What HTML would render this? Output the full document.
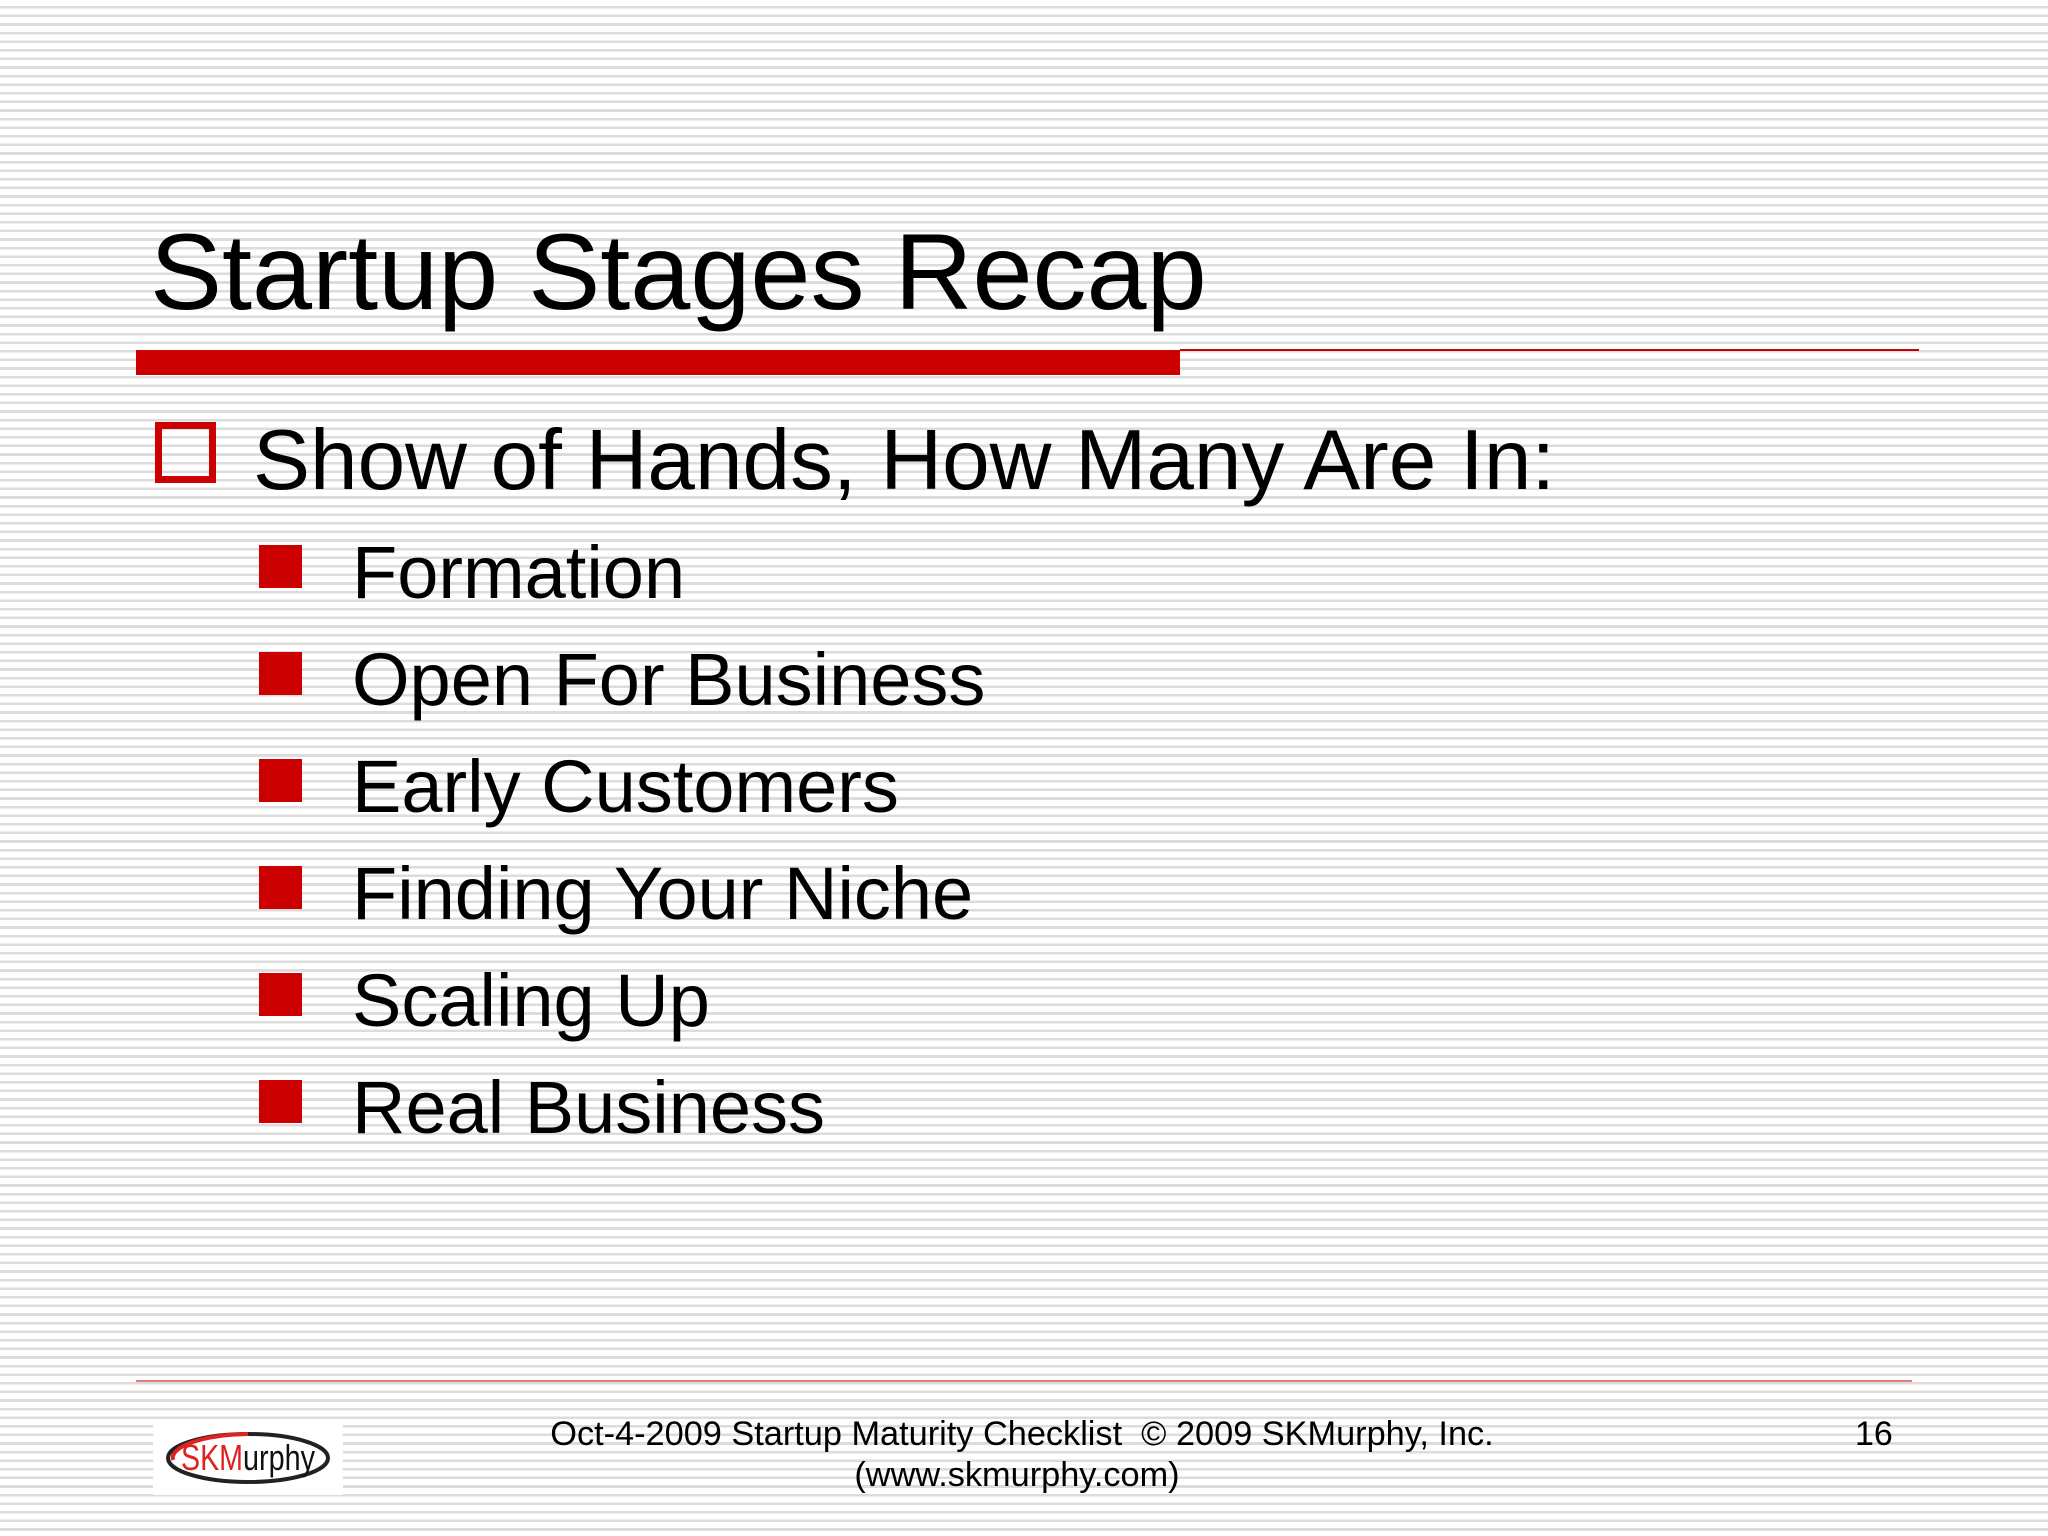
<!DOCTYPE html>
<html><head><meta charset="utf-8"><style>
body{margin:0;}
#slide{position:relative;width:2048px;height:1536px;overflow:hidden;background:#fff repeating-linear-gradient(to bottom,#fff 0px,#fff 6px,#dcdcdc 6px,#dcdcdc 8.6px);font-family:"Liberation Sans",Arial,sans-serif;color:#000;}
.t{position:absolute;white-space:nowrap;line-height:1;}
.b{position:absolute;left:259px;width:43px;height:43px;background:#cc0000;}
.i{position:absolute;left:352px;font-size:74px;white-space:nowrap;line-height:1;}
</style></head><body>
<div id="slide">
<div class="t" style="left:150px;top:218px;font-size:108px;">Startup Stages Recap</div>
<div style="position:absolute;left:136px;top:350px;width:1044px;height:25px;background:#cc0000;"></div>
<div style="position:absolute;left:1180px;top:349px;width:739px;height:2px;background:#cc0000;"></div>
<div style="position:absolute;left:155px;top:422px;width:47px;height:47px;border:7px solid #cc0000;"></div>
<div class="t" style="left:253px;top:418px;font-size:85.5px;">Show of Hands, How Many Are In:</div>
<div class="b" style="top:545px"></div>
<div class="i" style="top:536px">Formation</div>
<div class="b" style="top:652px"></div>
<div class="i" style="top:643px">Open For Business</div>
<div class="b" style="top:759px"></div>
<div class="i" style="top:750px">Early Customers</div>
<div class="b" style="top:866px"></div>
<div class="i" style="top:857px">Finding Your Niche</div>
<div class="b" style="top:973px"></div>
<div class="i" style="top:964px">Scaling Up</div>
<div class="b" style="top:1080px"></div>
<div class="i" style="top:1071px">Real Business</div>
<div style="position:absolute;left:136px;top:1380px;width:1776px;height:2px;background:#e08080;"></div>
<div style="position:absolute;left:153px;top:1420px;width:190px;height:75px;background:#fff;">
<svg width="190" height="75" viewBox="0 0 190 75"><ellipse cx="95" cy="38" rx="80" ry="24" fill="none" stroke="#222" stroke-width="4"/><path d="M20 40 A80 24 0 0 1 95 14" fill="none" stroke="#d22" stroke-width="4"/>
<text x="28" y="50" font-family="Liberation Sans Narrow, Liberation Sans, sans-serif" font-size="36" fill="#d22" textLength="62" lengthAdjust="spacingAndGlyphs">SKM</text>
<text x="90" y="50" font-family="Liberation Sans Narrow, Liberation Sans, sans-serif" font-size="36" fill="#111" textLength="72" lengthAdjust="spacingAndGlyphs">urphy</text></svg></div>
<div class="t" style="left:0;width:2048px;text-align:center;top:1414px;font-size:34.3px;line-height:41px;"><div style="margin-left:-4px">Oct-4-2009 Startup Maturity Checklist&nbsp; © 2009 SKMurphy, Inc.</div><div style="margin-left:-14px">(www.skmurphy.com)</div></div>
<div class="t" style="left:1855px;top:1417px;font-size:34px;">16</div>
</div>
</body></html>
